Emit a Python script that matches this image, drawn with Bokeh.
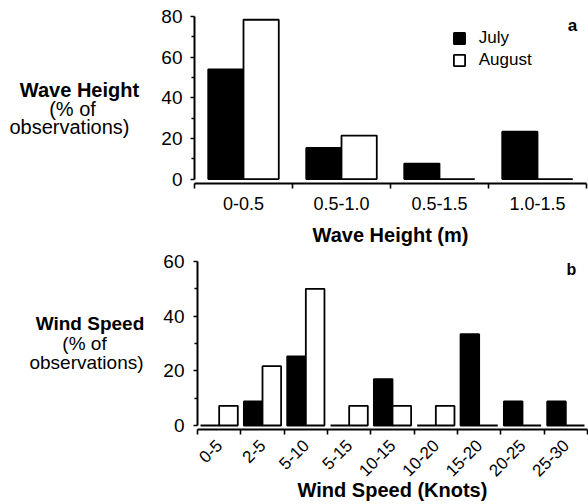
import math
from bokeh.plotting import figure
from bokeh.models import ColumnDataSource, FixedTicker, Label, Legend, LegendItem
from bokeh.transform import dodge
from bokeh.layouts import column, row
from bokeh.embed import file_html
from bokeh.resources import INLINE

# ---------------- data ----------------
wave_categories = ["0-0.5", "0.5-1.0", "0.5-1.5", "1.0-1.5"]
wave_july = [54.0, 15.3, 7.6, 23.3]
wave_august = [78.4, 21.4, 0.0, 0.0]
wave_yticks = [0, 20, 40, 60, 80]

wind_categories = ["0-5", "2-5", "5-10", "5-15", "10-15", "10-20", "15-20", "20-25", "25-30"]
wind_july = [0.0, 8.8, 25.3, 0.0, 17.0, 0.0, 33.4, 8.8, 8.8]
wind_august = [7.2, 21.7, 50.0, 7.2, 7.2, 7.2, 0.0, 0.0, 0.0]
wind_yticks = [0, 20, 40, 60]

series_names = ["July", "August"]

FONT = "Liberation Sans"
W = 588
AXIS_BORDER = 50   # left border of the chart figure (room for y tick labels)


def make_panel(cats, july, aug, yticks, width, height, b_top, b_bottom, b_right,
               y_start, bar_w, bar_off, tick_font, xlab_font, xlab_standoff,
               ylab_standoff, rotate, xtitle, xtitle_font, xtitle_standoff):
    n = len(cats)
    centers = [i + 0.5 for i in range(n)]
    src = ColumnDataSource(dict(x=centers, july=july, aug=aug, cat=cats))
    p = figure(width=width, height=height, x_range=(0, n), y_range=(y_start, yticks[-1]),
               output_backend="svg", toolbar_location=None,
               min_border_top=b_top, min_border_bottom=b_bottom,
               min_border_left=AXIS_BORDER, min_border_right=b_right)
    p.outline_line_color = None
    p.xgrid.visible = False
    p.ygrid.visible = False
    p.background_fill_color = "white"

    r_july = p.vbar(x=dodge("x", -bar_off, range=p.x_range), top="july", bottom=0,
                    width=bar_w, fill_color="black", line_color="black",
                    line_width=1.8, source=src)
    r_aug = p.vbar(x=dodge("x", bar_off, range=p.x_range), top="aug", bottom=0,
                   width=bar_w, fill_color="white", line_color="black",
                   line_width=1.8, source=src)

    # x axis: ticks at category boundaries, labels at centres
    xa = p.xaxis[0]
    xa.ticker = FixedTicker(ticks=centers, minor_ticks=list(range(n + 1)))
    xa.major_label_overrides = {c: lab for c, lab in zip(centers, cats)}
    xa.major_tick_out = 0
    xa.major_tick_in = 0
    xa.minor_tick_out = 5
    xa.minor_tick_in = 0
    xa.minor_tick_line_width = 1.6
    xa.minor_tick_line_color = "black"
    xa.axis_line_width = 2
    xa.axis_line_color = "black"
    xa.major_label_text_font = FONT
    xa.major_label_text_font_size = xlab_font
    xa.major_label_text_color = "black"
    xa.major_label_standoff = xlab_standoff
    if rotate:
        xa.major_label_orientation = math.pi / 4
    xa.axis_label = xtitle
    xa.axis_label_text_font = FONT
    xa.axis_label_text_font_size = xtitle_font
    xa.axis_label_text_font_style = "bold"
    xa.axis_label_text_color = "black"
    xa.axis_label_standoff = xtitle_standoff

    # y axis
    mids = [(a + b) / 2 for a, b in zip(yticks, yticks[1:])]
    ya = p.yaxis[0]
    ya.ticker = FixedTicker(ticks=yticks, minor_ticks=mids)
    ya.bounds = (0, yticks[-1])
    ya.major_tick_out = 4
    ya.major_tick_in = 0
    ya.minor_tick_out = 3
    ya.minor_tick_in = 0
    ya.major_tick_line_width = 1.6
    ya.minor_tick_line_width = 1.4
    ya.major_tick_line_color = "black"
    ya.minor_tick_line_color = "black"
    ya.axis_line_width = 2
    ya.axis_line_color = "black"
    ya.major_label_text_font = FONT
    ya.major_label_text_font_size = tick_font
    ya.major_label_text_color = "black"
    ya.major_label_standoff = ylab_standoff
    return p, r_july, r_aug


def add_label(p, x, y, text, size, bold=False):
    p.add_layout(Label(x=x, y=y, text=text, text_font=FONT, text_font_size=size,
                       text_font_style="bold" if bold else "normal",
                       text_color="black", text_align="center",
                       text_baseline="middle"))


def side_panel(width, height, b_top, b_bottom, lines):
    """Figure holding the horizontal, multi-line y-axis title.
    Its frame shares top/bottom borders with the chart next to it, so the
    y range is chosen such that one unit equals one pixel (y = height - py)."""
    s = figure(width=width, height=height, x_range=(0, width),
               y_range=(b_bottom, height - b_top),
               output_backend="svg", toolbar_location=None,
               x_axis_location=None, y_axis_location=None,
               min_border_left=0, min_border_right=0,
               min_border_top=b_top, min_border_bottom=b_bottom)
    s.outline_line_color = None
    s.xgrid.visible = False
    s.ygrid.visible = False
    for (px, py, text, size, bold) in lines:
        add_label(s, px, height - py, text, size, bold)
    return s


# ---------------- panel a ----------------
A_H, A_TOP, A_BOT, A_LEFT, A_RIGHT = 250, 16, 67, 194, 2
A_YSTART = -2.2
A_SIDE = A_LEFT - AXIS_BORDER
pa, ra_j, ra_a = make_panel(wave_categories, wave_july, wave_august, wave_yticks,
                            W - A_SIDE, A_H, A_TOP, A_BOT, A_RIGHT, A_YSTART,
                            0.36, 0.18, "19px", "18px", 8, 8, False,
                            "Wave Height (m)", "20px", 11)

a_xs = (W - A_LEFT - A_RIGHT) / len(wave_categories)
a_ys = (A_H - A_TOP - A_BOT) / (wave_yticks[-1] - A_YSTART)
a_y0 = A_TOP + wave_yticks[-1] * a_ys

add_label(pa, (572 - A_LEFT) / a_xs, (a_y0 - 25) / a_ys, "a", "17px", True)

legend = Legend(items=[LegendItem(label=series_names[0], renderers=[ra_j]),
                       LegendItem(label=series_names[1], renderers=[ra_a])],
                location=(451.7 - A_LEFT, (A_H - A_BOT) - 69.8),
                glyph_width=14, glyph_height=14, label_height=14,
                label_standoff=13, spacing=2, padding=0, margin=0,
                border_line_color=None, background_fill_alpha=0,
                label_text_font=FONT, label_text_font_size="17px",
                label_text_color="black")
pa.add_layout(legend)

sa = side_panel(A_SIDE, A_H, A_TOP, A_BOT, [
    (79, 89, "Wave Height", "20px", True),
    (72, 108, "(% of", "20px", False),
    (69, 126, "observations)", "20px", False),
])

# ---------------- panel b ----------------
B_H, B_TOP, B_BOT, B_LEFT, B_RIGHT = 254, 11, 75, 197, 1
B_YSTART = -1.46
B_SIDE = B_LEFT - AXIS_BORDER
pb, rb_j, rb_a = make_panel(wind_categories, wind_july, wind_august, wind_yticks,
                            W - B_SIDE, B_H, B_TOP, B_BOT, B_RIGHT, B_YSTART,
                            0.43, 0.215, "19px", "17px", 8,
                            9, True, "Wind Speed (Knots)", "20px", -6)

b_xs = (W - B_LEFT - B_RIGHT) / len(wind_categories)
b_ys = (B_H - B_TOP - B_BOT) / (wind_yticks[-1] - B_YSTART)
b_y0 = B_TOP + wind_yticks[-1] * b_ys

add_label(pb, (571 - B_LEFT) / b_xs, (b_y0 - (268.5 - A_H)) / b_ys, "b", "16px", True)

sb = side_panel(B_SIDE, B_H, B_TOP, B_BOT, [
    (89.5, 323 - A_H, "Wind Speed", "19px", True),
    (84, 343 - A_H, "(% of", "19px", False),
    (86, 362 - A_H, "observations)", "19px", False),
])

layout = column(row(sa, pa, spacing=0), row(sb, pb, spacing=0), spacing=0)
open("out.html", "w").write(file_html(layout, INLINE, "Wave height and wind speed"))
